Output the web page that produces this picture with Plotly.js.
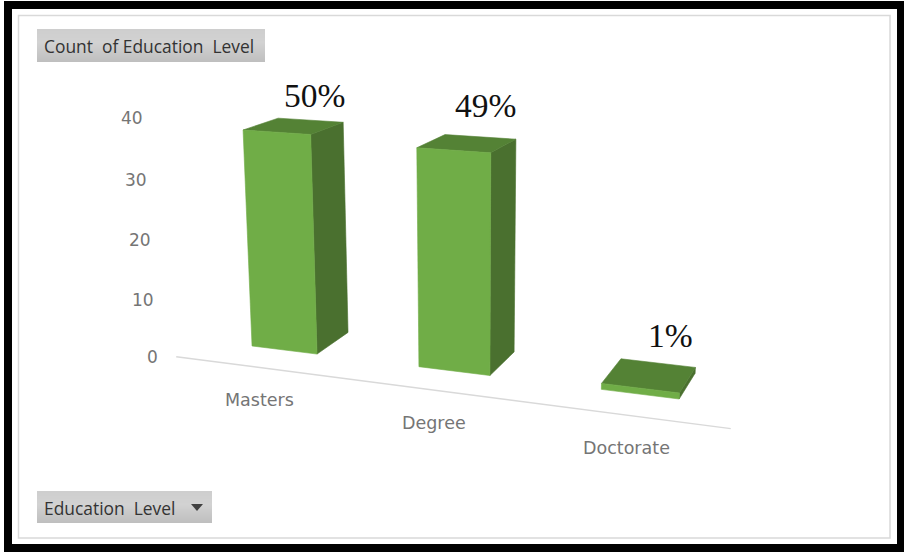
<!DOCTYPE html>
<html>
<head>
<meta charset="utf-8">
<script src="https://cdn.plot.ly/plotly-3.0.1.min.js"></script>
<style>html,body{margin:0;padding:0;background:#fff;overflow:hidden}#chart{width:904px;height:552px}</style>
</head>
<body>
<div id="chart"></div>
<script>
// Education level head-count, shown as perspective columns with percentage labels.
const categories = ['Masters', 'Degree', 'Doctorate'];
const counts = [38, 37, 1];
const valueTicks = [0, 10, 20, 30, 40];
const fieldLabel = 'Count  of Education  Level';
const filterLabel = 'Education  Level';

const total = counts.reduce((a, b) => a + b, 0);
const percentLabels = counts.map(c => Math.round(100 * c / total) + '%');

// Pinhole projection: u runs along the category axis, d into the floor, v up the value axis.
function project(u, d, v) {
  const k = 0.001026 * v;
  const w = 1 - 0.042 * u + 0.0458 * d - k;
  return [
    (147.2 * u + 46 * d + 204.7 - 470 * k) / w,
    (5.06 * u - 5.8 * d + 340.1 - 5600 * k) / w
  ];
}

const PAD = 0.3;               // gap on each side of a column, in category units
const AXIS_D = -0.75;          // floor depth of the category axis line
const TICK_D = -1.4;           // floor depth the value labels hang from

function face(corners, color, name) {
  const pts = corners.concat([corners[0]]).map(c => project(c[0], c[1], c[2]));
  return {
    type: 'scatter', mode: 'lines', fill: 'toself', name: name,
    x: pts.map(p => p[0]), y: pts.map(p => p[1]),
    fillcolor: color, line: {color: color, width: 0.6},
    hoverinfo: 'skip', showlegend: false
  };
}

const traces = [];
counts.forEach((v, i) => {
  const a = i + PAD, b = i + 1 - PAD;
  traces.push(face([[b,0,0],[b,1,0],[b,1,v],[b,0,v]], '#4a702f', categories[i] + ' side'));
  traces.push(face([[a,0,v],[b,0,v],[b,1,v],[a,1,v]], '#548235', categories[i] + ' top'));
  traces.push(face([[a,0,0],[b,0,0],[b,0,v],[a,0,v]], '#70ad47', categories[i] + ' front'));
});

const axisEnds = [project(0, AXIS_D, 0), project(categories.length + 0.01, AXIS_D, 0)];
traces.unshift({
  type: 'scatter', mode: 'lines', name: 'category axis',
  x: axisEnds.map(p => p[0]), y: axisEnds.map(p => p[1]),
  line: {color: '#d9d9d9', width: 1.4}, hoverinfo: 'skip', showlegend: false
});

const annotations = [];
const note = (x, y, text, size, color, family, anchor) => annotations.push({
  x, y, xref: 'x', yref: 'y', text, showarrow: false, xanchor: anchor || 'center', yanchor: 'middle',
  font: {size, color, family}
});
const AXIS_FONT = '"DejaVu Sans", sans-serif';
const UI_FONT = '"Open Sans", sans-serif';

valueTicks.forEach(t => {
  const p = project(0, TICK_D, t);
  note(p[0] + 10, p[1] - 14.6, String(t), 17, '#757575', AXIS_FONT, 'right');
});
categories.forEach((name, i) => {
  const p = project(i + 0.5, AXIS_D, 0);
  note(p[0] + 1, p[1] + 32.8, name, 17.5, '#757575', AXIS_FONT);
});
const labelShift = [[21, -31], [18, -38], [21, -40]];
percentLabels.forEach((text, i) => {
  const p = project(i + 0.5, 0.5, counts[i]);
  note(p[0] + labelShift[i][0], p[1] + labelShift[i][1], text, 33.5, '#111111', '"Liberation Serif", serif');
});
note(42, 46, fieldLabel, 17.4, '#333333', UI_FONT, 'left');
note(42, 507.5, filterLabel, 17.4, '#333333', UI_FONT, 'left');

// Frame, panel border and the two grey field buttons
const rect = (x0, y0, x1, y1, fill, line) => ({
  type: 'rect', xref: 'x', yref: 'y', x0, y0, x1, y1, layer: 'below',
  fillcolor: fill, line: line ? {color: line, width: 1.5} : {width: 0}
});
// Each button is a stack of whole-pixel rows, shaded from light grey down to a darker grey.
const button = (x0, y0, x1, y1) => {
  const rows = [];
  for (let y = y0; y < y1; y++) {
    const t = (y - y0) / (y1 - y0);
    const g = Math.round(t < 0.4 ? 206 + 10 * t : 210 - 34 * (t - 0.4));
    rows.push(rect(x0, y, x1, Math.min(y + 1.4, y1), `rgb(${g},${g},${g})`));
  }
  return rows;
};
const shapes = [
  rect(4, 1, 904, 552, '#000000'),
  rect(12, 9, 897, 544, '#ffffff'),
  rect(18.5, 15.5, 890, 538, '#ffffff', '#d9d9d9'),
  ...button(37, 29, 265, 62),
  ...button(37, 491, 212, 523),
  {type: 'path', xref: 'x', yref: 'y', path: 'M191,504 L203,504 L197,511 Z',
   fillcolor: '#404040', line: {width: 0}}
];

Plotly.newPlot('chart', traces, {
  width: 904, height: 552,
  margin: {l: 0, r: 0, t: 0, b: 0},
  paper_bgcolor: '#ffffff', plot_bgcolor: 'rgba(0,0,0,0)',
  xaxis: {range: [0, 904], visible: false, fixedrange: true},
  yaxis: {range: [552, 0], visible: false, fixedrange: true},
  showlegend: false, shapes, annotations
}, {displayModeBar: false, staticPlot: true});
</script>
</body>
</html>
